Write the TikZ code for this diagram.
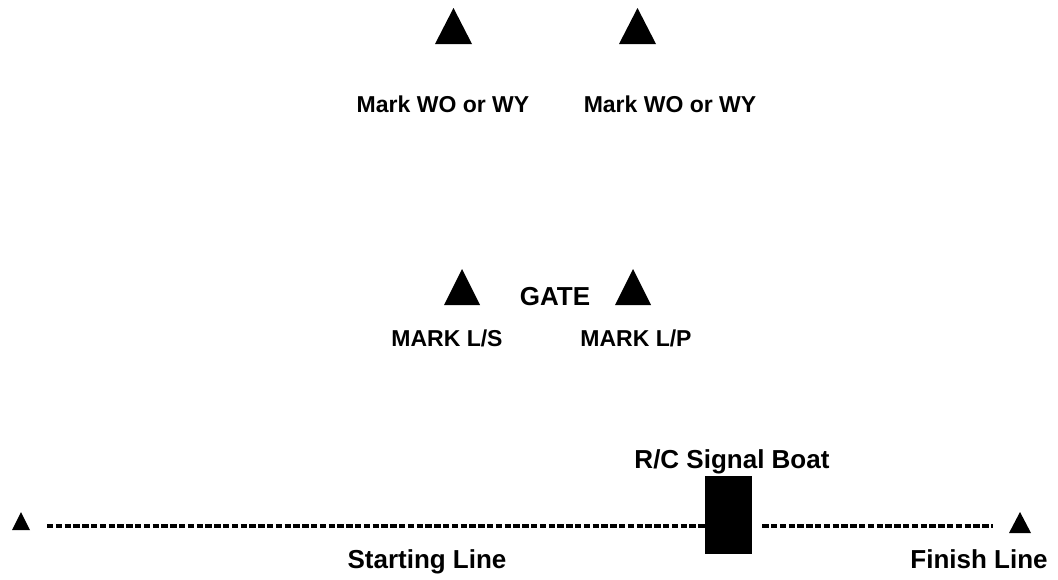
\documentclass[tikz,border=0pt]{standalone}
\usepackage{fontspec}
\setmainfont{Liberation Sans}
\usepackage{tikz}
\usetikzlibrary{positioning}

% buoy marker: name, apex x, apex y, half width, height
\newcommand{\buoy}[5]{%
  \fill (#2,#3) -- ++(#4,#5) -- ++({-2*#4},0) -- cycle;
  \coordinate (#1) at (#2,#3);}

\begin{document}
\begin{tikzpicture}[
    x=1pt, y=-1pt,
    lbl/.style={font=\fontsize{23}{27}\selectfont\bfseries, anchor=base, inner sep=0pt},
    biglbl/.style={lbl, font=\fontsize{26}{30}\selectfont\bfseries},
    boat/.style={fill=black, minimum width=47pt, minimum height=78pt, inner sep=0pt},
    course/.style={line width=4pt, dash pattern=on 6.4pt off 2.4pt}
]
    \useasboundingbox (0,0) rectangle (1058,579);

    % windward marks
    \buoy{wo1}{453.5}{8}{18.5}{36}
    \buoy{wo2}{637.5}{8}{18.5}{36}
    \node[lbl] (wolbl1) at (443,112) {Mark WO or WY};
    \node[lbl] (wolbl2) at (670,112) {Mark WO or WY};

    % leeward gate
    \buoy{gs}{462}{269}{18}{36}
    \buoy{gp}{633}{269}{18}{36}
    \node[biglbl] (gate) at (555,305) {GATE};
    \node[lbl] (lslbl) at (447,346) {MARK L/S};
    \node[lbl] (lplbl) at (636,346) {MARK L/P};

    % start / finish
    \buoy{pin}{21}{512}{9}{18}
    \buoy{fin}{1020}{512}{11}{21}
    \node[boat] (boat) at (728.5,515) {};
    \node[biglbl] (boatlbl) at (732,468) {R/C Signal Boat};
    \node[biglbl] (startlbl) at (427,568) {Starting Line};
    \node[biglbl] (finlbl) at (979,568) {Finish Line};

    \coordinate (sl) at (47,525.5);
    \coordinate (fl) at (993,525.5);
    \draw[course] (sl) -- (boat.west |- sl);
    \draw[course] ([xshift=10pt]boat.east |- fl) -- (fl);
\end{tikzpicture}
\end{document}
